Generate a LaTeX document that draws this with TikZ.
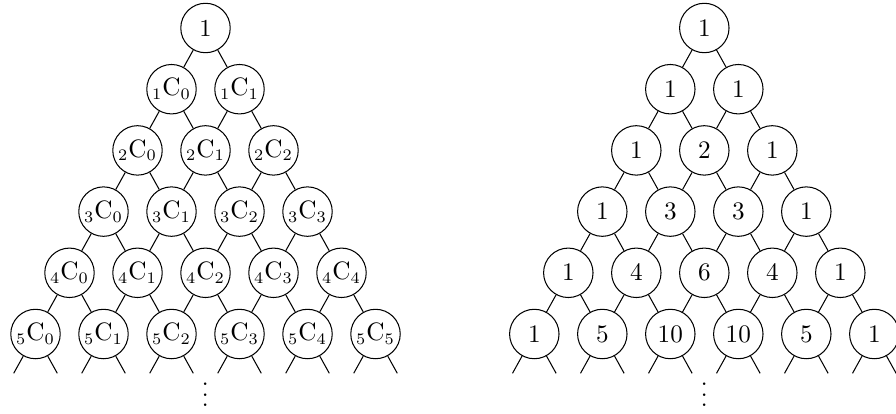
\documentclass[tikz,border=0pt]{standalone}
\newcommand{\myvdots}{\vbox{\baselineskip4.5pt\lineskiplimit0pt\hbox{.}\hbox{.}\hbox{.}}}
\begin{document}
\begin{tikzpicture}[x=0.4348pt,y=-0.4348pt]
\tikzset{
  bnode/.style={circle,draw,line width=0.45pt,minimum size=21.5pt,inner sep=0pt,font=\fontsize{10.6}{12.7}\selectfont},
  link/.style={line width=0.45pt}
}
\useasboundingbox (0,0) rectangle (896,413);
% left tree: binomial notation
\foreach \n in {0,...,5}{
  \foreach \k in {0,...,\n}{
    \pgfmathsetmacro\xx{205.5+(2*\k-\n)*34}
    \pgfmathsetmacro\yy{28+\n*61.2}
    \node[bnode] (L-\n-\k) at (\xx,\yy) {\ifnum\n=0 1\else${}_{\n}\mathrm{C}_{\k}$\fi};
  }
}
% right tree: numbers
\foreach \n in {0,...,5}{
  \foreach \k in {0,...,\n}{
    \pgfmathsetmacro\xx{704.3+(2*\k-\n)*34}
    \pgfmathsetmacro\yy{28+\n*61.2}
    \pgfmathtruncatemacro\bb{round(factorial(\n)/(factorial(\k)*factorial(\n-\k)))}
    \node[bnode] (R-\n-\k) at (\xx,\yy) {$\bb$};
  }
}
% edges
\foreach \n in {0,...,4}{
  \foreach \k in {0,...,\n}{
    \pgfmathtruncatemacro\m{\n+1}
    \pgfmathtruncatemacro\j{\k+1}
    \draw[link] (L-\n-\k) -- (L-\m-\k);
    \draw[link] (L-\n-\k) -- (L-\m-\j);
    \draw[link] (R-\n-\k) -- (R-\m-\k);
    \draw[link] (R-\n-\k) -- (R-\m-\j);
  }
}
% dangling ends
\foreach \k in {0,...,5}{
  \pgfmathsetmacro\xl{205.5+(2*\k-5)*34}
  \pgfmathsetmacro\xr{704.3+(2*\k-5)*34}
  \coordinate (LdA-\k) at (\xl-21.8,373.3);
  \coordinate (LdB-\k) at (\xl+21.8,373.3);
  \coordinate (RdA-\k) at (\xr-21.8,373.3);
  \coordinate (RdB-\k) at (\xr+21.8,373.3);
  \draw[link] (L-5-\k) -- (LdA-\k);
  \draw[link] (L-5-\k) -- (LdB-\k);
  \draw[link] (R-5-\k) -- (RdA-\k);
  \draw[link] (R-5-\k) -- (RdB-\k);
}
\node[inner sep=0pt,font=\fontsize{10.6}{12.7}\selectfont] (Ldots) at (205.3,395) {\myvdots};
\node[inner sep=0pt,font=\fontsize{10.6}{12.7}\selectfont] (Rdots) at (704.3,395) {\myvdots};
\end{tikzpicture}
\end{document}
